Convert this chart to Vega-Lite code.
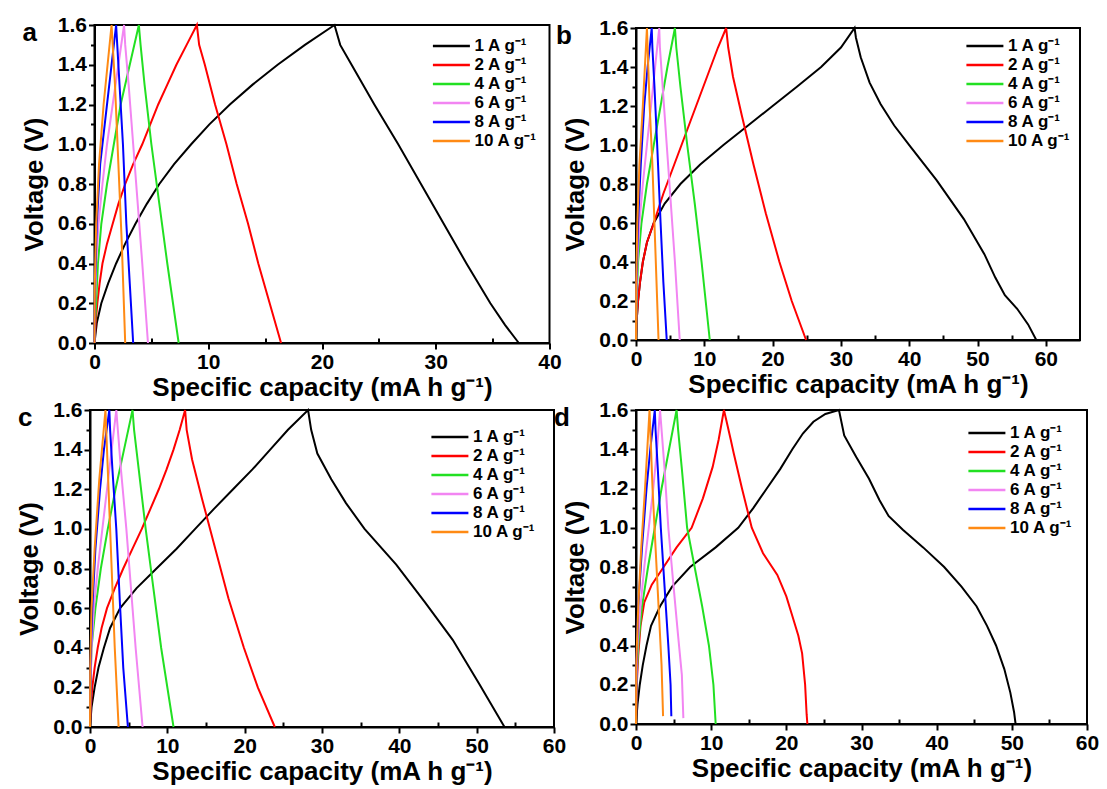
{
"$schema":"https://vega.github.io/schema/vega-lite/v6.json",
"background":"white",
"padding":{"left":15,"top":13,"right":5,"bottom":5},
"config":{
 "font":"Liberation Sans",
 "view":{"stroke":"#000","strokeWidth":2},
 "axis":{"domainColor":"#000","domainWidth":2,"tickColor":"#000","tickWidth":2,"tickSize":6,"labelColor":"#000","labelFont":"Liberation Sans","labelFontSize":21,"labelFontWeight":"bold","labelPadding":2,"labelFlush":false,"labelOverlap":false,"titleColor":"#000","titleFont":"Liberation Sans","titleFontSize":26,"titleFontWeight":"bold","grid":false},
 "axisX":{"titlePadding":2},
 "axisY":{"titlePadding":10},
 "legend":{"orient":"top-right","offset":12,"padding":0,"labelFont":"Liberation Sans","labelFontSize":17,"labelFontWeight":"bold","labelColor":"#000","symbolType":"M-4,0H1","symbolSize":219,"symbolStrokeWidth":2.5,"rowPadding":2,"labelOffset":3},
 "title":{"font":"Liberation Sans","fontSize":26,"fontWeight":"bold","color":"#000","anchor":"start","frame":"group","offset":0,"baseline":"top"}
},
"datasets":{
"da":[
{"c":"1","x":0,"v":0,"i":0},{"c":"1","x":0.2,"v":0.1,"i":1},{"c":"1","x":0.6,"v":0.2,"i":2},{"c":"1","x":1.2,"v":0.3,"i":3},{"c":"1","x":1.9,"v":0.4,"i":4},{"c":"1","x":2.7,"v":0.5,"i":5},{"c":"1","x":3.6,"v":0.6,"i":6},{"c":"1","x":4.6,"v":0.7,"i":7},{"c":"1","x":5.7,"v":0.8,"i":8},{"c":"1","x":7.0,"v":0.9,"i":9},{"c":"1","x":8.5,"v":1.0,"i":10},{"c":"1","x":10.1,"v":1.1,"i":11},{"c":"1","x":11.9,"v":1.2,"i":12},{"c":"1","x":13.9,"v":1.3,"i":13},{"c":"1","x":16.1,"v":1.4,"i":14},{"c":"1","x":18.5,"v":1.5,"i":15},{"c":"1","x":21.1,"v":1.6,"i":16},{"c":"1","x":21.6,"v":1.5,"i":17},{"c":"1","x":22.6,"v":1.4,"i":18},{"c":"1","x":24.6,"v":1.2,"i":19},{"c":"1","x":26.7,"v":1.0,"i":20},{"c":"1","x":28.7,"v":0.8,"i":21},{"c":"1","x":30.7,"v":0.6,"i":22},{"c":"1","x":32.7,"v":0.4,"i":23},{"c":"1","x":34.8,"v":0.2,"i":24},{"c":"1","x":36.1,"v":0.09,"i":25},{"c":"1","x":37.3,"v":0,"i":26},
{"c":"2","x":0,"v":0,"i":0},{"c":"2","x":0.1,"v":0.1,"i":1},{"c":"2","x":0.25,"v":0.2,"i":2},{"c":"2","x":0.45,"v":0.3,"i":3},{"c":"2","x":0.7,"v":0.4,"i":4},{"c":"2","x":1.1,"v":0.5,"i":5},{"c":"2","x":1.6,"v":0.6,"i":6},{"c":"2","x":2.1,"v":0.7,"i":7},{"c":"2","x":2.7,"v":0.8,"i":8},{"c":"2","x":3.4,"v":0.9,"i":9},{"c":"2","x":4.2,"v":1.0,"i":10},{"c":"2","x":4.9,"v":1.1,"i":11},{"c":"2","x":5.6,"v":1.2,"i":12},{"c":"2","x":6.4,"v":1.3,"i":13},{"c":"2","x":7.2,"v":1.4,"i":14},{"c":"2","x":8.1,"v":1.5,"i":15},{"c":"2","x":9.0,"v":1.6,"i":16},{"c":"2","x":9.2,"v":1.5,"i":17},{"c":"2","x":9.7,"v":1.4,"i":18},{"c":"2","x":10.6,"v":1.2,"i":19},{"c":"2","x":11.6,"v":1.0,"i":20},{"c":"2","x":12.5,"v":0.8,"i":21},{"c":"2","x":13.5,"v":0.6,"i":22},{"c":"2","x":14.4,"v":0.4,"i":23},{"c":"2","x":15.4,"v":0.2,"i":24},{"c":"2","x":16.4,"v":0,"i":25},
{"c":"4","x":0,"v":0,"i":0},{"c":"4","x":0.05,"v":0.1,"i":1},{"c":"4","x":0.15,"v":0.2,"i":2},{"c":"4","x":0.3,"v":0.4,"i":3},{"c":"4","x":0.6,"v":0.6,"i":4},{"c":"4","x":1.1,"v":0.8,"i":5},{"c":"4","x":1.7,"v":1.0,"i":6},{"c":"4","x":2.3,"v":1.2,"i":7},{"c":"4","x":3.1,"v":1.4,"i":8},{"c":"4","x":3.9,"v":1.6,"i":9},{"c":"4","x":4.05,"v":1.5,"i":10},{"c":"4","x":4.4,"v":1.3,"i":11},{"c":"4","x":5.0,"v":1.0,"i":12},{"c":"4","x":5.7,"v":0.7,"i":13},{"c":"4","x":6.4,"v":0.4,"i":14},{"c":"4","x":7.4,"v":0,"i":15},
{"c":"6","x":0,"v":0,"i":0},{"c":"6","x":0.05,"v":0.2,"i":1},{"c":"6","x":0.15,"v":0.4,"i":2},{"c":"6","x":0.35,"v":0.6,"i":3},{"c":"6","x":0.7,"v":0.8,"i":4},{"c":"6","x":1.1,"v":1.0,"i":5},{"c":"6","x":1.6,"v":1.2,"i":6},{"c":"6","x":2.1,"v":1.4,"i":7},{"c":"6","x":2.6,"v":1.6,"i":8},{"c":"6","x":2.7,"v":1.5,"i":9},{"c":"6","x":3.0,"v":1.3,"i":10},{"c":"6","x":3.4,"v":1.0,"i":11},{"c":"6","x":3.8,"v":0.7,"i":12},{"c":"6","x":4.2,"v":0.4,"i":13},{"c":"6","x":4.7,"v":0,"i":14},
{"c":"8","x":0,"v":0,"i":0},{"c":"8","x":0.05,"v":0.3,"i":1},{"c":"8","x":0.2,"v":0.6,"i":2},{"c":"8","x":0.5,"v":0.9,"i":3},{"c":"8","x":0.9,"v":1.1,"i":4},{"c":"8","x":1.3,"v":1.3,"i":5},{"c":"8","x":1.9,"v":1.6,"i":6},{"c":"8","x":2.0,"v":1.5,"i":7},{"c":"8","x":2.2,"v":1.3,"i":8},{"c":"8","x":2.5,"v":1.0,"i":9},{"c":"8","x":2.8,"v":0.6,"i":10},{"c":"8","x":3.1,"v":0.3,"i":11},{"c":"8","x":3.4,"v":0,"i":12},
{"c":"10","x":0,"v":0,"i":0},{"c":"10","x":0.03,"v":0.3,"i":1},{"c":"10","x":0.15,"v":0.6,"i":2},{"c":"10","x":0.4,"v":0.9,"i":3},{"c":"10","x":0.8,"v":1.2,"i":4},{"c":"10","x":1.5,"v":1.6,"i":5},{"c":"10","x":1.6,"v":1.5,"i":6},{"c":"10","x":1.8,"v":1.3,"i":7},{"c":"10","x":2.1,"v":0.9,"i":8},{"c":"10","x":2.4,"v":0.5,"i":9},{"c":"10","x":2.7,"v":0,"i":10}
],
"db":[
{"c":"1","x":0,"v":0,"i":0},{"c":"1","x":0.1,"v":0.1,"i":1},{"c":"1","x":0.3,"v":0.2,"i":2},{"c":"1","x":0.6,"v":0.3,"i":3},{"c":"1","x":1.0,"v":0.4,"i":4},{"c":"1","x":1.6,"v":0.5,"i":5},{"c":"1","x":2.6,"v":0.6,"i":6},{"c":"1","x":4.2,"v":0.7,"i":7},{"c":"1","x":6.5,"v":0.8,"i":8},{"c":"1","x":9.4,"v":0.9,"i":9},{"c":"1","x":12.8,"v":1.0,"i":10},{"c":"1","x":16.4,"v":1.1,"i":11},{"c":"1","x":20.0,"v":1.2,"i":12},{"c":"1","x":23.6,"v":1.3,"i":13},{"c":"1","x":27.1,"v":1.4,"i":14},{"c":"1","x":30.0,"v":1.5,"i":15},{"c":"1","x":32.0,"v":1.6,"i":16},{"c":"1","x":32.2,"v":1.55,"i":17},{"c":"1","x":32.9,"v":1.45,"i":18},{"c":"1","x":34.2,"v":1.32,"i":19},{"c":"1","x":35.8,"v":1.21,"i":20},{"c":"1","x":37.8,"v":1.1,"i":21},{"c":"1","x":40.2,"v":0.99,"i":22},{"c":"1","x":44.0,"v":0.82,"i":23},{"c":"1","x":48.0,"v":0.62,"i":24},{"c":"1","x":51.0,"v":0.44,"i":25},{"c":"1","x":52.6,"v":0.32,"i":26},{"c":"1","x":54.0,"v":0.23,"i":27},{"c":"1","x":55.8,"v":0.16,"i":28},{"c":"1","x":57.4,"v":0.08,"i":29},{"c":"1","x":58.6,"v":0,"i":30},
{"c":"2","x":0,"v":0,"i":0},{"c":"2","x":0.1,"v":0.1,"i":1},{"c":"2","x":0.3,"v":0.2,"i":2},{"c":"2","x":0.6,"v":0.3,"i":3},{"c":"2","x":1.0,"v":0.4,"i":4},{"c":"2","x":1.6,"v":0.5,"i":5},{"c":"2","x":2.6,"v":0.6,"i":6},{"c":"2","x":4.0,"v":0.75,"i":7},{"c":"2","x":5.6,"v":0.9,"i":8},{"c":"2","x":7.2,"v":1.05,"i":9},{"c":"2","x":8.8,"v":1.2,"i":10},{"c":"2","x":10.4,"v":1.35,"i":11},{"c":"2","x":12.0,"v":1.5,"i":12},{"c":"2","x":13.2,"v":1.6,"i":13},{"c":"2","x":13.5,"v":1.5,"i":14},{"c":"2","x":14.2,"v":1.35,"i":15},{"c":"2","x":15.5,"v":1.15,"i":16},{"c":"2","x":17.2,"v":0.9,"i":17},{"c":"2","x":19.0,"v":0.65,"i":18},{"c":"2","x":21.0,"v":0.4,"i":19},{"c":"2","x":22.8,"v":0.2,"i":20},{"c":"2","x":24.9,"v":0,"i":21},
{"c":"4","x":0,"v":0,"i":0},{"c":"4","x":0.1,"v":0.2,"i":1},{"c":"4","x":0.3,"v":0.4,"i":2},{"c":"4","x":0.8,"v":0.6,"i":3},{"c":"4","x":1.6,"v":0.8,"i":4},{"c":"4","x":2.6,"v":1.0,"i":5},{"c":"4","x":3.6,"v":1.2,"i":6},{"c":"4","x":4.6,"v":1.4,"i":7},{"c":"4","x":5.7,"v":1.6,"i":8},{"c":"4","x":5.9,"v":1.5,"i":9},{"c":"4","x":6.5,"v":1.3,"i":10},{"c":"4","x":7.5,"v":1.0,"i":11},{"c":"4","x":8.6,"v":0.7,"i":12},{"c":"4","x":9.6,"v":0.4,"i":13},{"c":"4","x":10.8,"v":0,"i":14},
{"c":"6","x":0,"v":0,"i":0},{"c":"6","x":0.05,"v":0.2,"i":1},{"c":"6","x":0.2,"v":0.4,"i":2},{"c":"6","x":0.5,"v":0.6,"i":3},{"c":"6","x":1.0,"v":0.8,"i":4},{"c":"6","x":1.6,"v":1.0,"i":5},{"c":"6","x":2.2,"v":1.2,"i":6},{"c":"6","x":2.8,"v":1.4,"i":7},{"c":"6","x":3.4,"v":1.6,"i":8},{"c":"6","x":3.5,"v":1.5,"i":9},{"c":"6","x":3.9,"v":1.3,"i":10},{"c":"6","x":4.5,"v":1.0,"i":11},{"c":"6","x":5.1,"v":0.7,"i":12},{"c":"6","x":5.7,"v":0.4,"i":13},{"c":"6","x":6.4,"v":0,"i":14},
{"c":"8","x":0,"v":0,"i":0},{"c":"8","x":0.05,"v":0.3,"i":1},{"c":"8","x":0.3,"v":0.6,"i":2},{"c":"8","x":0.7,"v":0.9,"i":3},{"c":"8","x":1.2,"v":1.2,"i":4},{"c":"8","x":1.7,"v":1.4,"i":5},{"c":"8","x":2.3,"v":1.6,"i":6},{"c":"8","x":2.4,"v":1.5,"i":7},{"c":"8","x":2.7,"v":1.3,"i":8},{"c":"8","x":3.1,"v":1.0,"i":9},{"c":"8","x":3.6,"v":0.6,"i":10},{"c":"8","x":4.0,"v":0.3,"i":11},{"c":"8","x":4.5,"v":0,"i":12},
{"c":"10","x":0,"v":0,"i":0},{"c":"10","x":0.03,"v":0.3,"i":1},{"c":"10","x":0.2,"v":0.6,"i":2},{"c":"10","x":0.5,"v":0.9,"i":3},{"c":"10","x":1.0,"v":1.2,"i":4},{"c":"10","x":1.6,"v":1.6,"i":5},{"c":"10","x":1.7,"v":1.5,"i":6},{"c":"10","x":2.0,"v":1.2,"i":7},{"c":"10","x":2.4,"v":0.9,"i":8},{"c":"10","x":2.8,"v":0.5,"i":9},{"c":"10","x":3.3,"v":0,"i":10}
],
"dc":[
{"c":"1","x":0,"v":0,"i":0},{"c":"1","x":0.2,"v":0.1,"i":1},{"c":"1","x":0.6,"v":0.2,"i":2},{"c":"1","x":1.1,"v":0.3,"i":3},{"c":"1","x":1.8,"v":0.4,"i":4},{"c":"1","x":2.6,"v":0.5,"i":5},{"c":"1","x":3.9,"v":0.6,"i":6},{"c":"1","x":6.0,"v":0.7,"i":7},{"c":"1","x":8.6,"v":0.8,"i":8},{"c":"1","x":11.2,"v":0.9,"i":9},{"c":"1","x":13.6,"v":1.0,"i":10},{"c":"1","x":16.0,"v":1.1,"i":11},{"c":"1","x":18.5,"v":1.2,"i":12},{"c":"1","x":21.0,"v":1.3,"i":13},{"c":"1","x":23.3,"v":1.4,"i":14},{"c":"1","x":25.6,"v":1.5,"i":15},{"c":"1","x":28.2,"v":1.6,"i":16},{"c":"1","x":28.6,"v":1.5,"i":17},{"c":"1","x":29.4,"v":1.38,"i":18},{"c":"1","x":31.2,"v":1.25,"i":19},{"c":"1","x":33.1,"v":1.13,"i":20},{"c":"1","x":35.5,"v":1.0,"i":21},{"c":"1","x":39.6,"v":0.82,"i":22},{"c":"1","x":43.3,"v":0.63,"i":23},{"c":"1","x":46.9,"v":0.44,"i":24},{"c":"1","x":50.3,"v":0.22,"i":25},{"c":"1","x":53.6,"v":0,"i":26},
{"c":"2","x":0,"v":0,"i":0},{"c":"2","x":0.1,"v":0.1,"i":1},{"c":"2","x":0.3,"v":0.2,"i":2},{"c":"2","x":0.6,"v":0.3,"i":3},{"c":"2","x":1.0,"v":0.4,"i":4},{"c":"2","x":1.5,"v":0.5,"i":5},{"c":"2","x":2.2,"v":0.6,"i":6},{"c":"2","x":3.2,"v":0.7,"i":7},{"c":"2","x":4.3,"v":0.8,"i":8},{"c":"2","x":5.5,"v":0.9,"i":9},{"c":"2","x":6.7,"v":1.0,"i":10},{"c":"2","x":7.8,"v":1.1,"i":11},{"c":"2","x":8.9,"v":1.2,"i":12},{"c":"2","x":9.9,"v":1.3,"i":13},{"c":"2","x":10.8,"v":1.4,"i":14},{"c":"2","x":11.6,"v":1.5,"i":15},{"c":"2","x":12.3,"v":1.6,"i":16},{"c":"2","x":12.5,"v":1.5,"i":17},{"c":"2","x":13.2,"v":1.35,"i":18},{"c":"2","x":14.5,"v":1.15,"i":19},{"c":"2","x":16.2,"v":0.9,"i":20},{"c":"2","x":17.9,"v":0.65,"i":21},{"c":"2","x":19.9,"v":0.4,"i":22},{"c":"2","x":21.7,"v":0.2,"i":23},{"c":"2","x":23.9,"v":0,"i":24},
{"c":"4","x":0,"v":0,"i":0},{"c":"4","x":0.05,"v":0.2,"i":1},{"c":"4","x":0.2,"v":0.4,"i":2},{"c":"4","x":0.7,"v":0.6,"i":3},{"c":"4","x":1.4,"v":0.8,"i":4},{"c":"4","x":2.3,"v":1.0,"i":5},{"c":"4","x":3.3,"v":1.2,"i":6},{"c":"4","x":4.4,"v":1.4,"i":7},{"c":"4","x":5.5,"v":1.6,"i":8},{"c":"4","x":5.7,"v":1.5,"i":9},{"c":"4","x":6.3,"v":1.3,"i":10},{"c":"4","x":7.2,"v":1.0,"i":11},{"c":"4","x":8.2,"v":0.7,"i":12},{"c":"4","x":9.2,"v":0.4,"i":13},{"c":"4","x":10.8,"v":0,"i":14},
{"c":"6","x":0,"v":0,"i":0},{"c":"6","x":0.05,"v":0.2,"i":1},{"c":"6","x":0.2,"v":0.4,"i":2},{"c":"6","x":0.5,"v":0.6,"i":3},{"c":"6","x":1.0,"v":0.8,"i":4},{"c":"6","x":1.6,"v":1.0,"i":5},{"c":"6","x":2.2,"v":1.2,"i":6},{"c":"6","x":2.8,"v":1.4,"i":7},{"c":"6","x":3.4,"v":1.6,"i":8},{"c":"6","x":3.6,"v":1.5,"i":9},{"c":"6","x":4.0,"v":1.3,"i":10},{"c":"6","x":4.7,"v":1.0,"i":11},{"c":"6","x":5.3,"v":0.7,"i":12},{"c":"6","x":5.9,"v":0.4,"i":13},{"c":"6","x":6.8,"v":0,"i":14},
{"c":"8","x":0,"v":0,"i":0},{"c":"8","x":0.05,"v":0.3,"i":1},{"c":"8","x":0.3,"v":0.6,"i":2},{"c":"8","x":0.7,"v":0.9,"i":3},{"c":"8","x":1.3,"v":1.2,"i":4},{"c":"8","x":1.8,"v":1.4,"i":5},{"c":"8","x":2.5,"v":1.6,"i":6},{"c":"8","x":2.6,"v":1.5,"i":7},{"c":"8","x":2.9,"v":1.3,"i":8},{"c":"8","x":3.4,"v":1.0,"i":9},{"c":"8","x":3.9,"v":0.6,"i":10},{"c":"8","x":4.3,"v":0.3,"i":11},{"c":"8","x":4.9,"v":0,"i":12},
{"c":"10","x":0,"v":0,"i":0},{"c":"10","x":0.03,"v":0.3,"i":1},{"c":"10","x":0.2,"v":0.6,"i":2},{"c":"10","x":0.6,"v":0.9,"i":3},{"c":"10","x":1.2,"v":1.25,"i":4},{"c":"10","x":2.0,"v":1.6,"i":5},{"c":"10","x":2.1,"v":1.5,"i":6},{"c":"10","x":2.4,"v":1.2,"i":7},{"c":"10","x":2.8,"v":0.8,"i":8},{"c":"10","x":3.2,"v":0.4,"i":9},{"c":"10","x":3.7,"v":0,"i":10}
],
"dd":[
{"c":"1","x":0,"v":0,"i":0},{"c":"1","x":0.2,"v":0.1,"i":1},{"c":"1","x":0.5,"v":0.2,"i":2},{"c":"1","x":0.9,"v":0.3,"i":3},{"c":"1","x":1.4,"v":0.4,"i":4},{"c":"1","x":2.0,"v":0.5,"i":5},{"c":"1","x":3.2,"v":0.6,"i":6},{"c":"1","x":4.8,"v":0.7,"i":7},{"c":"1","x":7.2,"v":0.8,"i":8},{"c":"1","x":10.6,"v":0.9,"i":9},{"c":"1","x":13.6,"v":1.0,"i":10},{"c":"1","x":15.6,"v":1.1,"i":11},{"c":"1","x":17.4,"v":1.2,"i":12},{"c":"1","x":19.2,"v":1.3,"i":13},{"c":"1","x":20.8,"v":1.4,"i":14},{"c":"1","x":22.2,"v":1.48,"i":15},{"c":"1","x":23.6,"v":1.54,"i":16},{"c":"1","x":25.2,"v":1.58,"i":17},{"c":"1","x":27.0,"v":1.6,"i":18},{"c":"1","x":27.7,"v":1.47,"i":19},{"c":"1","x":29.3,"v":1.36,"i":20},{"c":"1","x":31.0,"v":1.25,"i":21},{"c":"1","x":32.4,"v":1.14,"i":22},{"c":"1","x":33.6,"v":1.06,"i":23},{"c":"1","x":35.5,"v":0.99,"i":24},{"c":"1","x":38.2,"v":0.9,"i":25},{"c":"1","x":41.0,"v":0.8,"i":26},{"c":"1","x":43.3,"v":0.7,"i":27},{"c":"1","x":45.3,"v":0.6,"i":28},{"c":"1","x":46.7,"v":0.5,"i":29},{"c":"1","x":47.9,"v":0.4,"i":30},{"c":"1","x":49.0,"v":0.28,"i":31},{"c":"1","x":49.8,"v":0.16,"i":32},{"c":"1","x":50.3,"v":0.06,"i":33},{"c":"1","x":50.5,"v":0,"i":34},
{"c":"2","x":0,"v":0,"i":0},{"c":"2","x":0.1,"v":0.2,"i":1},{"c":"2","x":0.3,"v":0.35,"i":2},{"c":"2","x":0.6,"v":0.5,"i":3},{"c":"2","x":1.1,"v":0.62,"i":4},{"c":"2","x":2.1,"v":0.71,"i":5},{"c":"2","x":3.5,"v":0.79,"i":6},{"c":"2","x":5.4,"v":0.9,"i":7},{"c":"2","x":7.4,"v":1.0,"i":8},{"c":"2","x":8.9,"v":1.15,"i":9},{"c":"2","x":10.2,"v":1.31,"i":10},{"c":"2","x":11.0,"v":1.45,"i":11},{"c":"2","x":11.7,"v":1.6,"i":12},{"c":"2","x":12.0,"v":1.55,"i":13},{"c":"2","x":12.6,"v":1.45,"i":14},{"c":"2","x":13.0,"v":1.38,"i":15},{"c":"2","x":14.1,"v":1.2,"i":16},{"c":"2","x":15.4,"v":1.0,"i":17},{"c":"2","x":16.9,"v":0.87,"i":18},{"c":"2","x":18.8,"v":0.76,"i":19},{"c":"2","x":20.0,"v":0.65,"i":20},{"c":"2","x":20.8,"v":0.55,"i":21},{"c":"2","x":21.6,"v":0.45,"i":22},{"c":"2","x":22.1,"v":0.36,"i":23},{"c":"2","x":22.5,"v":0.2,"i":24},{"c":"2","x":22.7,"v":0.05,"i":25},{"c":"2","x":22.8,"v":0,"i":26},
{"c":"4","x":0,"v":0,"i":0},{"c":"4","x":0.05,"v":0.2,"i":1},{"c":"4","x":0.3,"v":0.4,"i":2},{"c":"4","x":0.8,"v":0.6,"i":3},{"c":"4","x":1.6,"v":0.8,"i":4},{"c":"4","x":2.5,"v":1.0,"i":5},{"c":"4","x":3.4,"v":1.2,"i":6},{"c":"4","x":4.4,"v":1.4,"i":7},{"c":"4","x":5.4,"v":1.6,"i":8},{"c":"4","x":5.6,"v":1.5,"i":9},{"c":"4","x":6.1,"v":1.3,"i":10},{"c":"4","x":6.8,"v":1.0,"i":11},{"c":"4","x":7.8,"v":0.8,"i":12},{"c":"4","x":8.8,"v":0.6,"i":13},{"c":"4","x":9.7,"v":0.4,"i":14},{"c":"4","x":10.3,"v":0.2,"i":15},{"c":"4","x":10.6,"v":0,"i":16},
{"c":"6","x":0,"v":0,"i":0},{"c":"6","x":0.05,"v":0.2,"i":1},{"c":"6","x":0.2,"v":0.4,"i":2},{"c":"6","x":0.6,"v":0.6,"i":3},{"c":"6","x":1.1,"v":0.8,"i":4},{"c":"6","x":1.7,"v":1.0,"i":5},{"c":"6","x":2.3,"v":1.2,"i":6},{"c":"6","x":2.8,"v":1.4,"i":7},{"c":"6","x":3.2,"v":1.6,"i":8},{"c":"6","x":3.4,"v":1.5,"i":9},{"c":"6","x":3.8,"v":1.3,"i":10},{"c":"6","x":4.3,"v":1.0,"i":11},{"c":"6","x":5.0,"v":0.7,"i":12},{"c":"6","x":5.6,"v":0.45,"i":13},{"c":"6","x":6.1,"v":0.25,"i":14},{"c":"6","x":6.3,"v":0.03,"i":15},
{"c":"8","x":0,"v":0,"i":0},{"c":"8","x":0.05,"v":0.3,"i":1},{"c":"8","x":0.3,"v":0.6,"i":2},{"c":"8","x":0.8,"v":0.9,"i":3},{"c":"8","x":1.4,"v":1.2,"i":4},{"c":"8","x":1.9,"v":1.4,"i":5},{"c":"8","x":2.5,"v":1.6,"i":6},{"c":"8","x":2.6,"v":1.5,"i":7},{"c":"8","x":2.9,"v":1.3,"i":8},{"c":"8","x":3.3,"v":1.0,"i":9},{"c":"8","x":3.8,"v":0.7,"i":10},{"c":"8","x":4.3,"v":0.4,"i":11},{"c":"8","x":4.6,"v":0.2,"i":12},{"c":"8","x":4.7,"v":0.04,"i":13},
{"c":"10","x":0,"v":0,"i":0},{"c":"10","x":0.03,"v":0.3,"i":1},{"c":"10","x":0.3,"v":0.6,"i":2},{"c":"10","x":0.7,"v":0.9,"i":3},{"c":"10","x":1.2,"v":1.2,"i":4},{"c":"10","x":1.8,"v":1.6,"i":5},{"c":"10","x":1.9,"v":1.5,"i":6},{"c":"10","x":2.2,"v":1.2,"i":7},{"c":"10","x":2.6,"v":0.9,"i":8},{"c":"10","x":3.0,"v":0.6,"i":9},{"c":"10","x":3.4,"v":0.3,"i":10},{"c":"10","x":3.6,"v":0.04,"i":11}
]
},
"columns":2,
"bounds":"flush",
"center":true,
"spacing":{"row":67,"column":82},
"resolve":{"scale":{"color":"independent"},"legend":{"color":"independent"}},
"concat":[
 {"width":455,"height":318,"data":{"name":"da"},
  "title":{"text":"a","dx":-72,"dy":36},
  "layer":[
   {"mark":{"type":"line","strokeWidth":2},
    "encoding":{
     "x":{"field":"x","type":"quantitative","scale":{"domain":[0,40],"nice":false,"zero":false},"axis":{"values":[0,10,20,30,40],"title":"Specific capacity (mA h g⁻¹)","orient":"bottom"}},
     "y":{"field":"v","type":"quantitative","scale":{"domain":[0,1.6],"nice":false},"axis":{"values":[0,0.2,0.4,0.6,0.8,1.0,1.2,1.4,1.6],"format":".1f","title":"Voltage (V)","orient":"left"}},
     "color":{"field":"c","type":"nominal","scale":{"domain":["1","2","4","6","8","10"],"range":["#000000","#ff0000","#22e022","#f285f2","#0000ff","#ff8a14"]},"legend":{"title":null,"labelExpr":"datum.label + ' A g⁻¹'","offset":12}},
     "order":{"field":"i","type":"quantitative"}}},
   {"mark":{"type":"line","opacity":0},
    "encoding":{
     "x":{"field":"x","type":"quantitative","axis":{"values":[5,15,25,35],"labels":false,"title":null,"domain":false,"tickSize":-5,"orient":"bottom"}},
     "y":{"field":"v","type":"quantitative","axis":{"values":[0.1,0.3,0.5,0.7,0.9,1.1,1.3,1.5],"labels":false,"title":null,"domain":false,"tickSize":4,"orient":"left"}},
     "detail":{"field":"c"}}}
  ],
  "resolve":{"axis":{"x":"independent","y":"independent"}}
 },
 {"width":444,"height":312,"data":{"name":"db"},
  "title":{"text":"b","dx":-80,"dy":36},
  "layer":[
   {"mark":{"type":"line","strokeWidth":2},
    "encoding":{
     "x":{"field":"x","type":"quantitative","scale":{"domain":[0,65],"nice":false,"zero":false},"axis":{"values":[0,10,20,30,40,50,60],"title":"Specific capacity (mA h g⁻¹)","orient":"bottom"}},
     "y":{"field":"v","type":"quantitative","scale":{"domain":[0,1.6],"nice":false},"axis":{"values":[0,0.2,0.4,0.6,0.8,1.0,1.2,1.4,1.6],"format":".1f","title":"Voltage (V)","orient":"left"}},
     "color":{"field":"c","type":"nominal","scale":{"domain":["1","2","4","6","8","10"],"range":["#000000","#ff0000","#22e022","#f285f2","#0000ff","#ff8a14"]},"legend":{"title":null,"labelExpr":"datum.label + ' A g⁻¹'","offset":9}},
     "order":{"field":"i","type":"quantitative"}}},
   {"mark":{"type":"line","opacity":0},
    "encoding":{
     "x":{"field":"x","type":"quantitative","axis":{"values":[5,15,25,35,45,55],"labels":false,"title":null,"domain":false,"tickSize":-5,"orient":"bottom"}},
     "y":{"field":"v","type":"quantitative","axis":{"values":[0.1,0.3,0.5,0.7,0.9,1.1,1.3,1.5],"labels":false,"title":null,"domain":false,"tickSize":4,"orient":"left"}},
     "detail":{"field":"c"}}}
  ],
  "resolve":{"axis":{"x":"independent","y":"independent"}}
 },
 {"width":464,"height":317,"data":{"name":"dc"},
  "title":{"text":"c","dx":-72,"dy":36},
  "layer":[
   {"mark":{"type":"line","strokeWidth":2},
    "encoding":{
     "x":{"field":"x","type":"quantitative","scale":{"domain":[0,60],"nice":false,"zero":false},"axis":{"values":[0,10,20,30,40,50,60],"title":"Specific capacity (mA h g⁻¹)","orient":"bottom"}},
     "y":{"field":"v","type":"quantitative","scale":{"domain":[0,1.6],"nice":false},"axis":{"values":[0,0.2,0.4,0.6,0.8,1.0,1.2,1.4,1.6],"format":".1f","title":"Voltage (V)","orient":"left"}},
     "color":{"field":"c","type":"nominal","scale":{"domain":["1","2","4","6","8","10"],"range":["#000000","#ff0000","#22e022","#f285f2","#0000ff","#ff8a14"]},"legend":{"title":null,"labelExpr":"datum.label + ' A g⁻¹'","offset":18}},
     "order":{"field":"i","type":"quantitative"}}},
   {"mark":{"type":"line","opacity":0},
    "encoding":{
     "x":{"field":"x","type":"quantitative","axis":{"values":[5,15,25,35,45,55],"labels":false,"title":null,"domain":false,"tickSize":-5,"orient":"bottom"}},
     "y":{"field":"v","type":"quantitative","axis":{"values":[0.1,0.3,0.5,0.7,0.9,1.1,1.3,1.5],"labels":false,"title":null,"domain":false,"tickSize":4,"orient":"left"}},
     "detail":{"field":"c"}}}
  ],
  "resolve":{"axis":{"x":"independent","y":"independent"}}
 },
 {"width":451,"height":314,"data":{"name":"dd"},
  "title":{"text":"d","dx":-82,"dy":36},
  "layer":[
   {"mark":{"type":"line","strokeWidth":2},
    "encoding":{
     "x":{"field":"x","type":"quantitative","scale":{"domain":[0,60],"nice":false,"zero":false},"axis":{"values":[0,10,20,30,40,50,60],"title":"Specific capacity (mA h g⁻¹)","orient":"bottom"}},
     "y":{"field":"v","type":"quantitative","scale":{"domain":[0,1.6],"nice":false},"axis":{"values":[0,0.2,0.4,0.6,0.8,1.0,1.2,1.4,1.6],"format":".1f","title":"Voltage (V)","orient":"left"}},
     "color":{"field":"c","type":"nominal","scale":{"domain":["1","2","4","6","8","10"],"range":["#000000","#ff0000","#22e022","#f285f2","#0000ff","#ff8a14"]},"legend":{"title":null,"labelExpr":"datum.label + ' A g⁻¹'","offset":14}},
     "order":{"field":"i","type":"quantitative"}}},
   {"mark":{"type":"line","opacity":0},
    "encoding":{
     "x":{"field":"x","type":"quantitative","axis":{"values":[5,15,25,35,45,55],"labels":false,"title":null,"domain":false,"tickSize":-5,"orient":"bottom"}},
     "y":{"field":"v","type":"quantitative","axis":{"values":[0.1,0.3,0.5,0.7,0.9,1.1,1.3,1.5],"labels":false,"title":null,"domain":false,"tickSize":4,"orient":"left"}},
     "detail":{"field":"c"}}}
  ],
  "resolve":{"axis":{"x":"independent","y":"independent"}}
 }
]
}
